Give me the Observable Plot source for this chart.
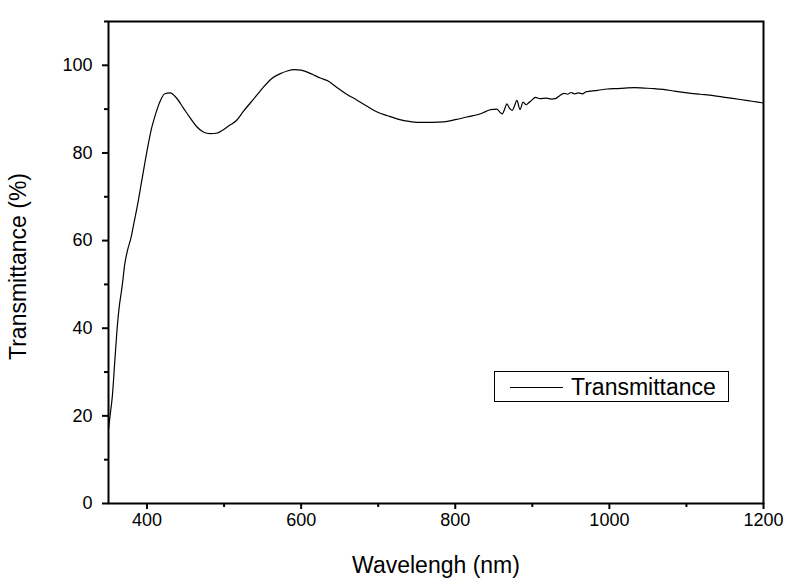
<!DOCTYPE html>
<html>
<head>
<meta charset="utf-8">
<script src="https://cdn.jsdelivr.net/npm/d3@7"></script>
<script src="https://cdn.jsdelivr.net/npm/@observablehq/plot@0.6"></script>
<style>
  html, body { margin: 0; padding: 0; background: white; }
  #wrap { position: relative; width: 794px; height: 582px; font-family: "Liberation Sans", Arial, sans-serif; }
  #legend { position: absolute; left: 494px; top: 371px; width: 233px; height: 29px; border: 1px solid black; background: white; box-sizing: content-box; }
  #legend .ln { position: absolute; left: 15px; top: 15px; width: 53px; height: 0; border-top: 1.3px solid black; }
  #legend .tx { position: absolute; left: 76px; top: 1px; font-size: 23px; line-height: 28px; color: black; }
</style>
</head>
<body>
<div id="wrap"></div>
<script>
const wavelength = [350,352,355,358,361,364,366,368,371,375,379,383,387,393,400,406,411,417,423,430,438,447,456,464,473,482,490,498,507,516,525,534,543,551,562,573,582,591,600,607,615,625,635,646,659,672,685,698,712,728,740,750,770,785,800,815,832,840,846,854,857,861,864,867,870,874,877,880,884,888,892,895,899,904,910,918,925,930,935,941,946,950,955,960,965,970,975,985,997,1010,1020,1032,1045,1058,1070,1085,1101,1118,1135,1150,1170,1185,1200];
const transmittance = [17,20,24.5,32,39.5,45,47.5,50,54.5,58,60.5,64,67.5,73.5,80.5,85.7,88.8,91.8,93.5,93.7,92.6,90.3,88.0,86.1,84.8,84.4,84.5,85.2,86.3,87.4,89.5,91.4,93.3,95.0,97.0,98.1,98.7,99.0,98.9,98.5,97.9,97.1,96.4,95.0,93.4,92.1,90.7,89.4,88.5,87.6,87.2,87.0,87.0,87.1,87.6,88.2,88.9,89.5,89.9,90.0,89.5,88.9,90.0,91.2,90.3,89.7,90.8,92.0,89.9,91.6,91.0,91.4,92.0,92.7,92.4,92.5,92.3,92.4,93.0,93.6,93.4,93.8,93.5,93.7,93.5,94.0,94.1,94.3,94.6,94.7,94.8,94.9,94.8,94.7,94.5,94.1,93.7,93.4,93.1,92.7,92.2,91.8,91.4];
const xTicks = [400, 600, 800, 1000, 1200];
const xMinor = [500, 700, 900, 1100];
const yTicks = [0, 20, 40, 60, 80, 100];
const yMinor = [10, 30, 50, 70, 90, 110];
const xTitle = "Wavelengh (nm)";
const yTitle = "Transmittance (%)";
const seriesName = "Transmittance";

const data = wavelength.map((w, i) => ({w, t: transmittance[i]}));
const fmt = d3.format("d");

const chart = Plot.plot({
  width: 794,
  height: 582,
  marginLeft: 108,
  marginRight: 31,
  marginTop: 21,
  marginBottom: 79,
  x: {domain: [350, 1200]},
  y: {domain: [0, 110]},
  style: {fontFamily: "'Liberation Sans', Arial, sans-serif", background: "white", color: "black", overflow: "visible"},
  marks: [
    Plot.line(data, {x: "w", y: "t", stroke: "black", strokeWidth: 1.2, curve: "monotone-x"}),
    Plot.frame({stroke: "black", strokeWidth: 2}),
    Plot.axisX({ticks: xTicks, tickFormat: fmt, tickSize: 6, tickPadding: 4, fontSize: 18, strokeWidth: 2, label: null}),
    Plot.axisX({ticks: xMinor, tickSize: 4, text: null, strokeWidth: 2, label: null}),
    Plot.axisY({ticks: yTicks, tickFormat: fmt, tickSize: 6, tickPadding: 10, fontSize: 18, strokeWidth: 2, label: null}),
    Plot.axisY({ticks: yMinor, tickSize: 4, text: null, strokeWidth: 2, label: null}),
    Plot.text([xTitle], {frameAnchor: "bottom", dy: 69, fontSize: 23, fill: "black"}),
    Plot.text([yTitle], {frameAnchor: "left", textAnchor: "middle", dx: -90, dy: 4, rotate: -90, fontSize: 23, fill: "black"})
  ]
});

const wrap = document.getElementById("wrap");
wrap.appendChild(chart);
const legend = document.createElement("div");
legend.id = "legend";
legend.innerHTML = `<div class="ln"></div><div class="tx">${seriesName}</div>`;
wrap.appendChild(legend);
</script>
</body>
</html>
